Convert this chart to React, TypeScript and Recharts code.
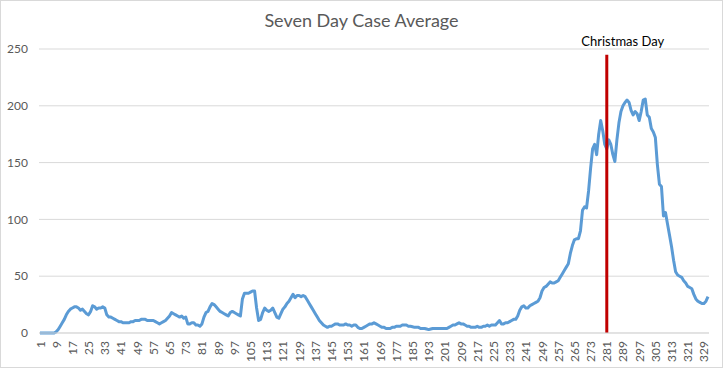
import React from 'react';
import { LineChart, Line, XAxis, YAxis, CartesianGrid, ReferenceLine } from 'recharts';

// seven day average of cases, one value per day (day 1 .. 331)
const cases = [
  0, 0, 0, 0, 0, 0, 0, 0, 1, 3,
  6, 9, 12, 16, 19, 21, 22, 23, 23, 22,
  20, 21, 19, 17, 16, 19, 24, 23, 21, 22,
  22, 23, 22, 16, 14, 14, 13, 12, 11, 10,
  10, 9, 9, 9, 9, 10, 10, 11, 11, 11,
  12, 12, 12, 11, 11, 11, 11, 10, 9, 8,
  9, 10, 11, 13, 15, 18, 17, 16, 15, 14,
  15, 13, 14, 8, 8, 9, 9, 7, 7, 6,
  8, 14, 18, 19, 23, 26, 25, 23, 21, 19,
  18, 17, 16, 15, 18, 19, 18, 17, 16, 15,
  30, 35, 35, 35, 36, 37, 37, 22, 11, 12,
  18, 22, 20, 19, 20, 22, 18, 14, 13, 17,
  21, 23, 26, 28, 31, 34, 31, 33, 33, 32,
  33, 32, 29, 26, 23, 20, 17, 14, 11, 9,
  7, 6, 5, 6, 6, 7, 8, 8, 7, 7,
  7, 8, 7, 7, 6, 7, 7, 5, 4, 4,
  5, 6, 7, 8, 8, 9, 8, 7, 6, 5,
  5, 4, 4, 4, 5, 5, 6, 6, 6, 7,
  7, 7, 6, 6, 5.5, 5, 5, 5, 4, 4,
  4, 3.5, 3, 3.5, 4, 4, 4, 4, 4, 4,
  4, 4, 5, 6, 7, 7, 8, 9, 8, 8,
  7, 6, 6, 5, 5, 5, 6, 5, 5, 6,
  6, 7, 6, 7, 7, 7, 9, 11, 8, 8,
  9, 9, 10, 11, 12, 12, 15, 20, 23, 24,
  22, 22, 24, 25, 26, 27, 28, 31, 37, 40,
  41, 43, 45, 44, 44, 45, 46, 49, 52, 55,
  58, 61, 70, 77, 82, 83, 83, 90, 108, 111,
  110, 125, 145, 162, 166, 157, 175, 187, 178, 166,
  162, 170, 166, 157, 151, 170, 185, 195, 200, 203,
  205, 203, 196, 192, 195, 193, 187, 195, 205, 206,
  192, 190, 180, 177, 172, 148, 131, 129, 103, 106,
  96, 86, 76, 64, 54, 51, 50, 49, 46, 44,
  41, 40, 39, 34, 30, 28, 27, 26, 26, 28,
  32,
];

const days = cases.map((_, i) => i + 1);
const yTicks = [0, 50, 100, 150, 200, 250];

const christmasDay = 281;
const markerTop = 245;

const data = days.map((day, i) => ({ day, cases: cases[i] }));

const font = 'Lato, "Open Sans", sans-serif';
const grey = '#595959';

const DayTick = (props: any) => {
  const { x, y, payload } = props;
  return (
    <text
      x={x}
      y={y}
      transform={`rotate(-90, ${x}, ${y})`}
      textAnchor="end"
      dominantBaseline="central"
      fontSize={12}
      fontFamily={font}
      fill={grey}
    >
      {payload.value}
    </text>
  );
};

const App = () => {
  return (
    <div style={{ position: 'absolute', left: 0, top: 0, width: 723, height: 368, background: '#fff' }}>
      <div
        style={{
          position: 'absolute',
          top: 8,
          left: 0,
          width: 723,
          textAlign: 'center',
          fontFamily: font,
          fontSize: 18,
          lineHeight: '24px',
          color: grey,
        }}
      >
        Seven Day Case Average
      </div>
      <LineChart width={723} height={368} data={data} margin={{ top: 49, right: 14, left: 0, bottom: 0 }}>
        <CartesianGrid vertical={false} stroke="#d9d9d9" />
        <XAxis
          dataKey="day"
          interval={7}
          height={35}
          tick={<DayTick />}
          tickLine={false}
          tickSize={0}
          tickMargin={8}
          axisLine={{ stroke: '#d9d9d9' }}
          padding={{ left: 1, right: 1 }}
        />
        <YAxis
          width={39}
          domain={[0, 250]}
          ticks={yTicks}
          tickLine={false}
          tickSize={0}
          tickMargin={11}
          axisLine={false}
          tick={{ fontSize: 12, fill: grey, fontFamily: font }}
        />
        <Line
          type="linear"
          dataKey="cases"
          stroke="#5b9bd5"
          strokeWidth={3}
          dot={false}
          strokeLinejoin="round"
          isAnimationActive={false}
        />
        <ReferenceLine
          segment={[
            { x: christmasDay, y: 0 },
            { x: christmasDay, y: markerTop },
          ]}
          stroke="#c00000"
          strokeWidth={3}
          label={{
            value: 'Christmas Day',
            position: 'top',
            offset: 9,
            dx: 16,
            fill: '#000',
            fontSize: 13,
            fontFamily: font,
          }}
        />
      </LineChart>
      <div
        style={{
          position: 'absolute',
          inset: 0,
          border: '1px solid #d9d9d9',
          pointerEvents: 'none',
        }}
      />
    </div>
  );
};

export default App;
